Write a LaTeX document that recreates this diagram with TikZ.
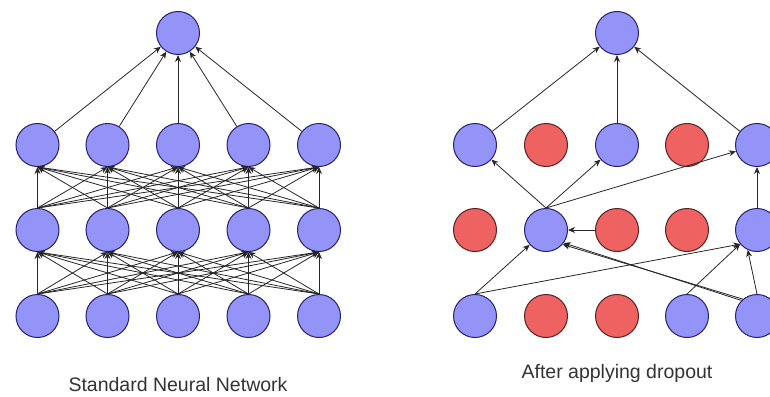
\documentclass[tikz,border=0pt]{standalone}
\usepackage{fontspec}
\setmainfont{Liberation Sans}
\usetikzlibrary{arrows.meta}
\definecolor{neuronblue}{HTML}{9494F8}
\definecolor{neuronred}{HTML}{EE6262}
\definecolor{rimblue}{HTML}{22226E}
\definecolor{rimred}{HTML}{5A2020}
\definecolor{captiongray}{HTML}{333333}
\tikzset{
  unit/.style={circle, minimum size=43pt, inner sep=0pt, line width=1pt},
  live/.style={unit, draw=rimblue, fill=neuronblue},
  dropped/.style={unit, draw=rimred, fill=neuronred},
  conn/.style={line width=0.8pt, draw=black!85, -{Stealth[length=7pt,width=6pt]}},
  caption/.style={font=\fontsize{19.5}{22}\selectfont, text=captiongray}
}
\begin{document}
\begin{tikzpicture}[x=1pt,y=-1pt]
\useasboundingbox (0,0) rectangle (770,396);
% ---------- Standard network ----------
\node[live] (lt) at (178,33) {};
\foreach \i/\x in {1/37.5,2/107.5,3/178,4/248.5,5/319}{
  \node[live] (la\i) at (\x,316) {};
  \node[live] (lb\i) at (\x,230) {};
  \node[live] (lc\i) at (\x,145) {};
}
\foreach \i in {1,...,5}{
  \foreach \j in {1,...,5}{
    \draw[conn] (la\i.north) -- (lb\j.south);
    \draw[conn] (lb\i.north) -- (lc\j.south);
  }
  \draw[conn] (lc\i) -- (lt);
}
\node[caption] (lcap) at (178,385) {Standard Neural Network};
% ---------- After dropout ----------
\node[live] (rt) at (617,33) {};
\node[live]    (rc1) at (475,145) {};
\node[dropped] (rc2) at (546,145) {};
\node[live]    (rc3) at (617,145) {};
\node[dropped] (rc4) at (687,145) {};
\node[live]    (rc5) at (757,145) {};
\node[dropped] (rb1) at (475,230) {};
\node[live]    (rb2) at (546,230) {};
\node[dropped] (rb3) at (617,230) {};
\node[dropped] (rb4) at (687,230) {};
\node[live]    (rb5) at (757,230) {};
\node[live]    (ra1) at (475,316) {};
\node[dropped] (ra2) at (546,316) {};
\node[dropped] (ra3) at (617,316) {};
\node[live]    (ra4) at (687,316) {};
\node[live]    (ra5) at (757,316) {};
\draw[conn] (rc1) -- (rt);
\draw[conn] (rc3) -- (rt);
\draw[conn] (rc5) -- (rt);
\draw[conn] (rb2.north) -- (rc1);
\draw[conn] (rb2.north) -- (rc3);
\draw[conn] (rb2.north) -- (rc5);
\draw[conn] (rb5) -- (rc5);
\draw[conn] (rb3) -- (rb2);
\draw[conn] (ra1.north) -- (rb2);
\draw[conn] (ra1.north) -- (rb5.-140);
\draw[conn] (ra4.north) -- (rb5.-140);
\draw[conn] (ra5.north) -- (rb5.-115);
\draw[conn] (ra5.135) -- (rb2.-36);
\draw[conn] (ra5.130) -- (rb2.-41);
\node[caption] (rcap) at (617,373) {After applying dropout};
\end{tikzpicture}
\end{document}
